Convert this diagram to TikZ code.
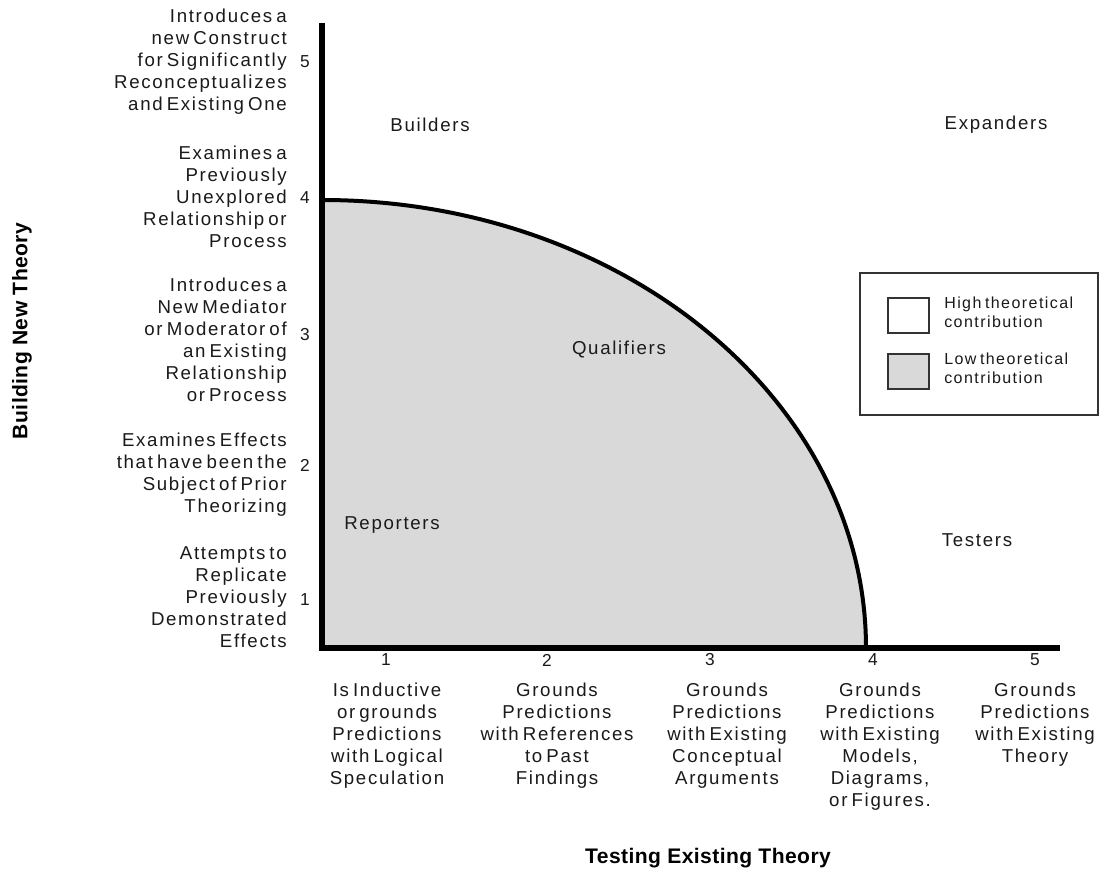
\documentclass[tikz,border=0pt]{standalone}
\usepackage{fontspec}
\setmainfont{Liberation Sans}
\newfontfamily\labfont[LetterSpace=9,WordSpace=0.6]{Liberation Sans}
\newfontfamily\titlefont[LetterSpace=2]{Liberation Sans}
\definecolor{lowfill}{HTML}{D9D9D9}
\definecolor{legendline}{HTML}{333333}
\definecolor{ink}{HTML}{1A1A1A}
\tikzset{
  lab/.style={font=\labfont\fontsize{14}{16.5}\selectfont, inner sep=0pt, text=ink},
  leftlab/.style={lab, align=right, anchor=east},
  botlab/.style={lab, align=center, anchor=north},
  region/.style={lab},
  tick/.style={font=\fontsize{13}{14}\selectfont, inner sep=0pt, text=ink},
  axtitle/.style={font=\titlefont\bfseries\fontsize{15.8}{18}\selectfont, inner sep=0pt},
  legtext/.style={font=\labfont\fontsize{12}{14.2}\selectfont, align=left, anchor=west, inner sep=0pt, text=ink},
  swatch/.style={draw=legendline, line width=1.2pt},
  axis/.style={line width=4.5pt, line join=miter},
  bound/.style={line width=3pt}
}
\begin{document}
\begin{tikzpicture}[x=0.75pt,y=0.75pt]
\useasboundingbox[fill=white] (0,0) rectangle (1104,872);

% low-contribution quarter region
\fill[lowfill] (322,224) -- (322,672) arc[start angle=90, end angle=0, x radius=544, y radius=448] -- cycle;
\draw[bound] (322,672) arc[start angle=90, end angle=0, x radius=544, y radius=448];

% axes
\coordinate (ytop) at (322,849);
\coordinate (origin) at (322,224);
\coordinate (xend) at (1060,224);
\draw[axis] (ytop) -- (origin) -- (xend);

% vertical axis ticks and labels
\node[tick] (y5) at (305,810) {5};
\node[tick] (y4) at (305,674) {4};
\node[tick] (y3) at (305,537) {3};
\node[tick] (y2) at (305,407) {2};
\node[tick] (y1) at (305,272) {1};

\node[leftlab] (l5) at (287,810) {Introduces a\\new Construct\\for Significantly\\Reconceptualizes\\and Existing One};
\node[leftlab] (l4) at (287,675) {Examines a\\Previously\\Unexplored\\Relationship or\\Process};
\node[leftlab] (l3) at (287,532) {Introduces a\\New Mediator\\or Moderator of\\an Existing\\Relationship\\or Process};
\node[leftlab] (l2) at (287,397) {Examines Effects\\that have been the\\Subject of Prior\\Theorizing};
\node[leftlab] (l1) at (287,275) {Attempts to\\Replicate\\Previously\\Demonstrated\\Effects};

% horizontal axis ticks and labels
\node[tick] (x1) at (386,212) {1};
\node[tick] (x2) at (547,212) {2};
\node[tick] (x3) at (710,212) {3};
\node[tick] (x4) at (873,212) {4};
\node[tick] (x5) at (1035,212) {5};

\node[botlab] (b1) at (387,189) {Is Inductive\\or grounds\\Predictions\\with Logical\\Speculation};
\node[botlab] (b2) at (557,189) {Grounds\\Predictions\\with References\\to Past\\Findings};
\node[botlab] (b3) at (727,189) {Grounds\\Predictions\\with Existing\\Conceptual\\Arguments};
\node[botlab] (b4) at (880,189) {Grounds\\Predictions\\with Existing\\Models,\\Diagrams,\\or Figures.};
\node[botlab] (b5) at (1035,189) {Grounds\\Predictions\\with Existing\\Theory};

% axis titles
\node[axtitle, rotate=90] (ytitle) at (22,541) {Building New Theory};
\node[axtitle] (xtitle) at (708,14) {Testing Existing Theory};

% quadrant names
\node[region] (builders) at (430,747) {Builders};
\node[region] (expanders) at (996,747) {Expanders};
\node[region] (qualifiers) at (619,522) {Qualifiers};
\node[region] (reporters) at (392,347) {Reporters};
\node[region] (testers) at (977,332) {Testers};

% legend
\draw[draw=legendline, line width=1.2pt, fill=white] (860,599) rectangle (1098,457);
\draw[swatch, fill=white] (888,574) rectangle (929,539);
\draw[swatch, fill=lowfill] (888,518) rectangle (929,483);
\node[legtext] (hi) at (944,560) {High theoretical\\contribution};
\node[legtext] (lo) at (944,504) {Low theoretical\\contribution};
\end{tikzpicture}
\end{document}
